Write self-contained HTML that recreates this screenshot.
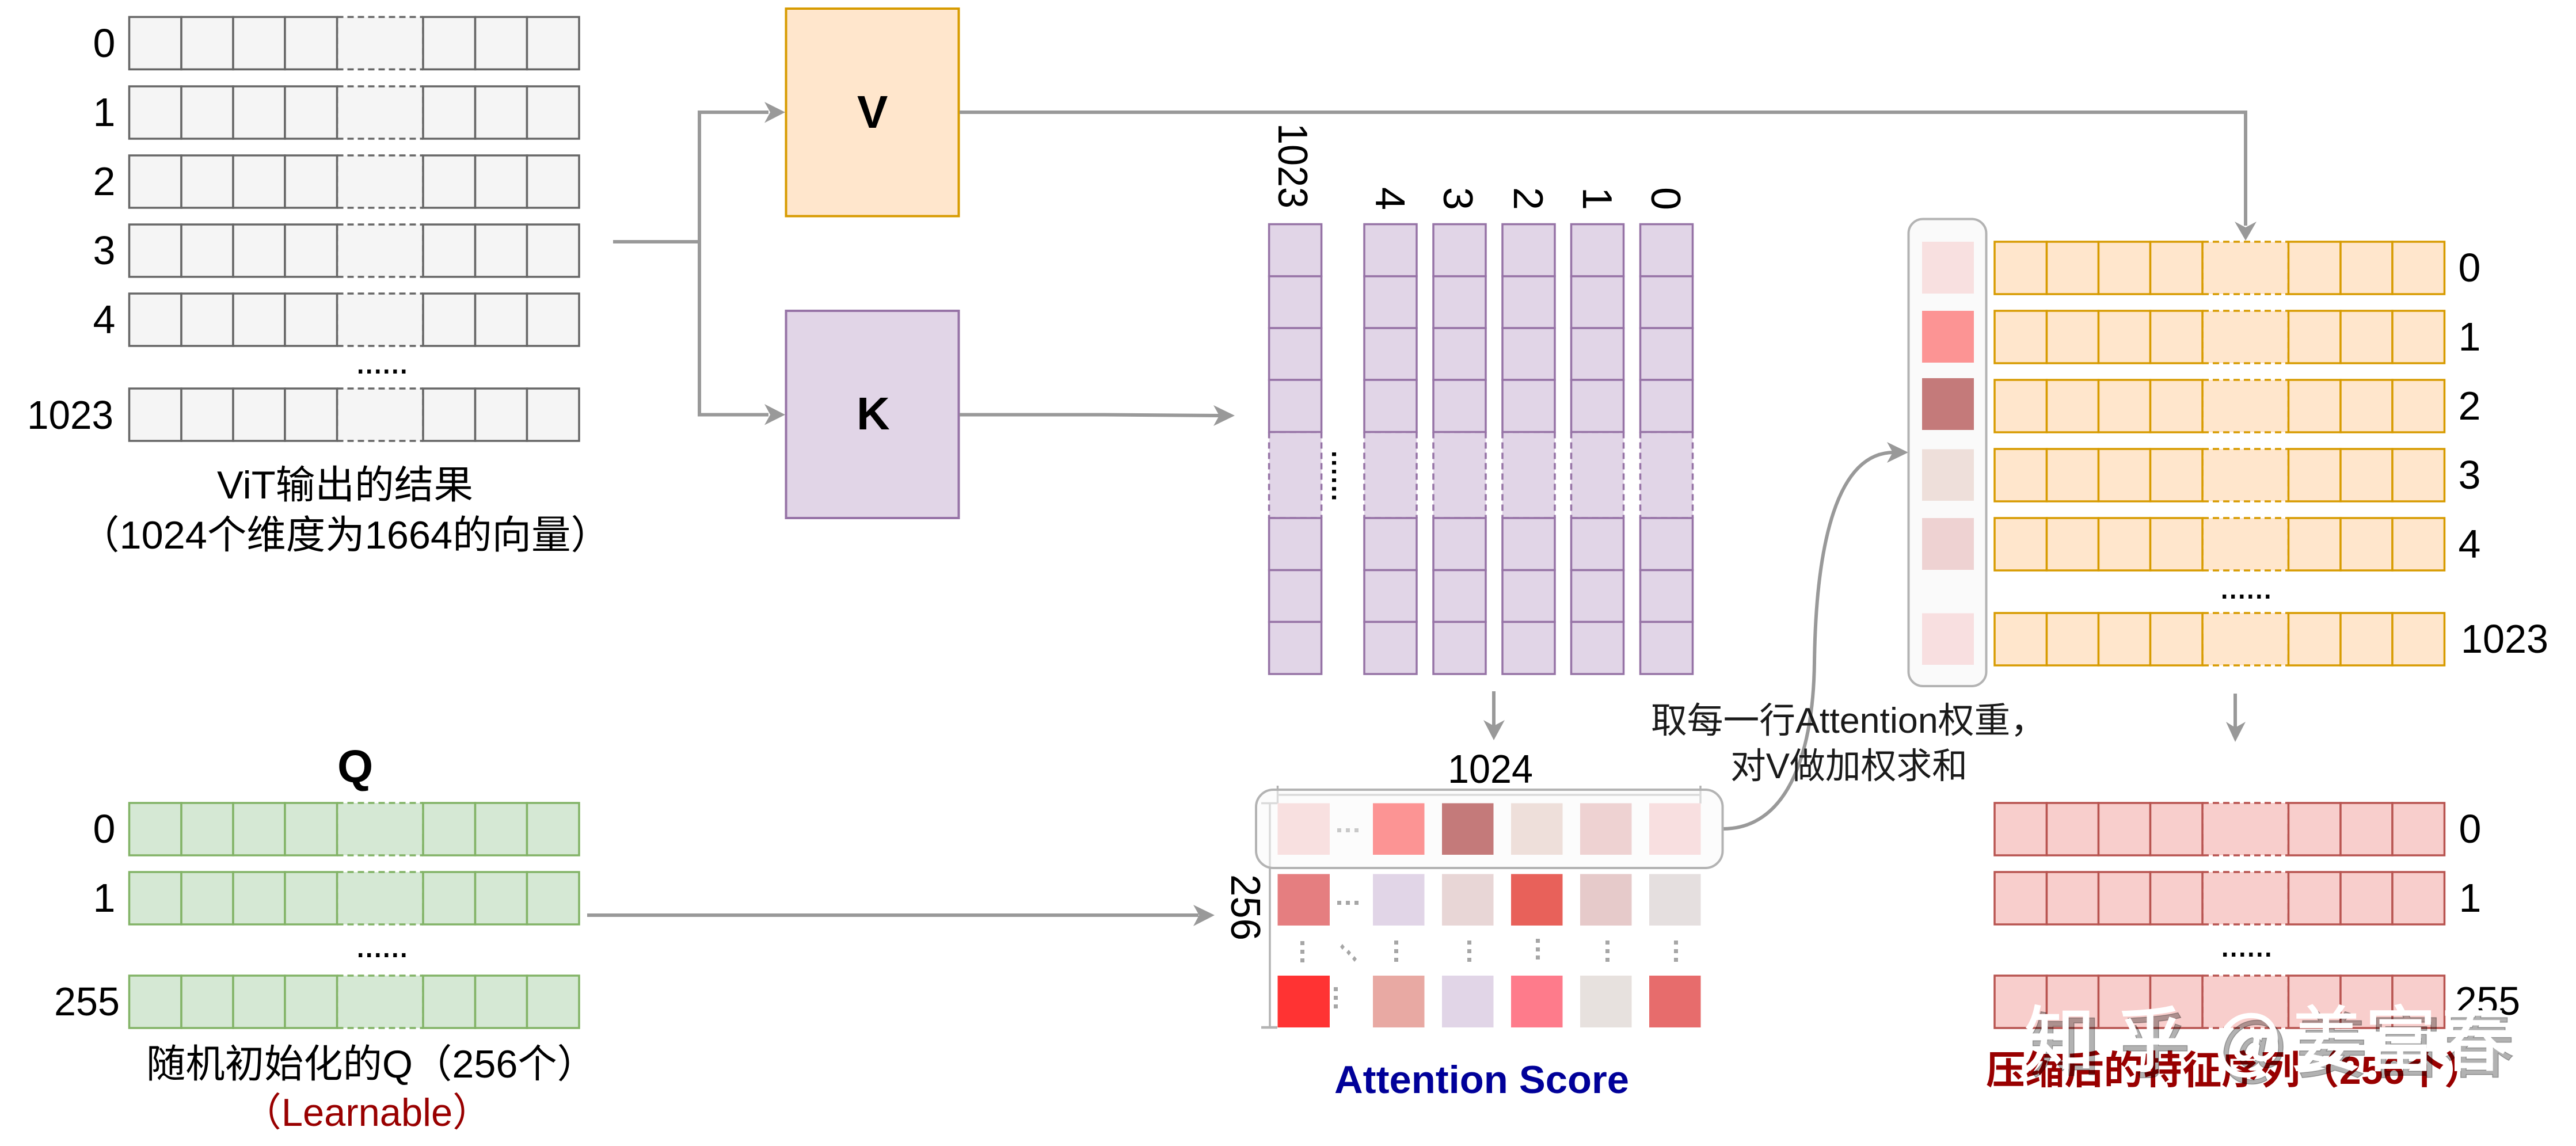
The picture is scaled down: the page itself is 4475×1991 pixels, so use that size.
<!DOCTYPE html>
<html lang="zh">
<head>
<meta charset="utf-8">
<title>Attention pooling diagram</title>
<style>
html,body{margin:0;padding:0;background:#fff}
svg{display:block}
text{font-family:"Liberation Sans","Noto Sans CJK SC",sans-serif;fill:#000}
.n{font-size:70px}
.c{font-size:70px;text-anchor:middle}
.t{font-size:68px}
.r{font-size:72px}
.dots{font-size:66px;letter-spacing:-3.3px}
.wm{font-family:"Noto Sans CJK SC","Liberation Sans",sans-serif;font-size:124px;stroke-width:1.5px}
</style>
</head>
<body>
<svg xmlns="http://www.w3.org/2000/svg" width="4475" height="1991" viewBox="0 0 4475 1991">
<defs>
<g id="r">
<rect x="361" y="0" width="149.5" height="91" stroke="none"/>
<path d="M361 0H510.5M361 91H510.5M361 0V91M510.5 0V91" fill="none" stroke-width="3.5" stroke-dasharray="11 7"/>
<g stroke-width="3.5">
<rect x="0" y="0" width="90.5" height="91"/>
<rect x="90.5" y="0" width="90" height="91"/>
<rect x="180.5" y="0" width="90" height="91"/>
<rect x="270.5" y="0" width="90.5" height="91"/>
<rect x="510.5" y="0" width="90.5" height="91"/>
<rect x="601" y="0" width="90" height="91"/>
<rect x="691" y="0" width="90.5" height="91"/>
</g>
</g>
</defs>

<rect width="4475" height="1991" fill="#fff"/>

<!-- gray rows -->
<g fill="#f5f5f5" stroke="#666666">
<use href="#r" x="224.5" y="29.5"/>
<use href="#r" x="224.5" y="150"/>
<use href="#r" x="224.5" y="270"/>
<use href="#r" x="224.5" y="390"/>
<use href="#r" x="224.5" y="510"/>
<use href="#r" x="224.5" y="675"/>
</g>
<text class="c" x="181" y="99">0</text>
<text class="c" x="181" y="219">1</text>
<text class="c" x="181" y="339">2</text>
<text class="c" x="181" y="459">3</text>
<text class="c" x="181" y="579">4</text>
<text class="n" x="47" y="745" textLength="150" lengthAdjust="spacingAndGlyphs">1023</text>
<text class="dots" x="617" y="649">......</text>
<text class="t" x="377" y="866" textLength="445" lengthAdjust="spacingAndGlyphs">ViT输出的结果</text>
<text class="t" x="139" y="953" textLength="921" lengthAdjust="spacingAndGlyphs">（1024个维度为1664的向量）</text>

<!-- green rows -->
<text x="586" y="1359" font-size="80" font-weight="bold">Q</text>
<g fill="#d5e8d4" stroke="#82b366">
<use href="#r" x="224.5" y="1395"/>
<use href="#r" x="224.5" y="1515"/>
<use href="#r" x="224.5" y="1695"/>
</g>
<text class="c" x="181" y="1464">0</text>
<text class="c" x="181" y="1584">1</text>
<text class="n" x="94" y="1764" textLength="114" lengthAdjust="spacingAndGlyphs">255</text>
<text class="dots" x="617" y="1663">......</text>
<text class="t" x="254" y="1872" textLength="782" lengthAdjust="spacingAndGlyphs">随机初始化的Q（256个）</text>
<text class="t" x="422" y="1956" textLength="431" lengthAdjust="spacingAndGlyphs" style="fill:#990000">（Learnable）</text>

<!-- V K boxes -->
<rect x="1365.5" y="15" width="300" height="360.5" fill="#ffe6cc" stroke="#d79b00" stroke-width="4"/>
<rect x="1365.5" y="540" width="300" height="360" fill="#e1d5e7" stroke="#9673a6" stroke-width="4"/>
<text x="1489" y="222" font-size="80" font-weight="bold">V</text>
<text x="1488" y="746" font-size="80" font-weight="bold">K</text>

<!-- connectors -->
<g fill="none" stroke="#999999" stroke-width="6">
<path d="M1065 420H1215"/>
<path d="M1335 195H1215V720.5H1335"/>
<path d="M1667 195H3901V392"/>
<path d="M1667 720.5H1917L2118 722"/>
<path d="M1020 1590H2082"/>
<path d="M2595 1201V1262"/>
<path d="M3883 1205V1265"/>
<path d="M2993 1440C3100 1440 3150 1320 3152 1150C3154 1000 3175 786 3290 786"/>
</g>
<g fill="#999999" stroke="none">
<polygon points="1364,195 1328,177 1338,195 1328,213.5"/>
<polygon points="1364,720.5 1328,702 1338,720.5 1328,738.5"/>
<polygon points="2145,722 2108,704 2118,722 2108,740"/>
<polygon points="2110,1590 2073,1572 2083,1590 2073,1609"/>
<polygon points="3901,418 3882,385 3901,395 3920,385"/>
<polygon points="2595,1286 2577,1251 2595,1261 2614,1251"/>
<polygon points="3883,1289 3867,1254 3883,1264 3901,1254"/>
<polygon points="3315,786 3278,768 3288,786 3278,804"/>
</g>

<!-- purple columns -->
<g fill="#e1d5e7" stroke="#9673a6">
<use href="#r" transform="matrix(0 1 1 0 2204.6 389.5)"/>
<use href="#r" transform="matrix(0 1 1 0 2370 389.5)"/>
<use href="#r" transform="matrix(0 1 1 0 2490 389.5)"/>
<use href="#r" transform="matrix(0 1 1 0 2610 389.5)"/>
<use href="#r" transform="matrix(0 1 1 0 2729.5 389.5)"/>
<use href="#r" transform="matrix(0 1 1 0 2849.5 389.5)"/>
</g>
<text class="r" transform="translate(2221 214) rotate(90)" textLength="148" lengthAdjust="spacingAndGlyphs">1023</text>
<text class="r" transform="translate(2390 325) rotate(90)">4</text>
<text class="r" transform="translate(2508 325) rotate(90)">3</text>
<text class="r" transform="translate(2630 325) rotate(90)">2</text>
<text class="r" transform="translate(2750 325) rotate(90)">1</text>
<text class="r" transform="translate(2869 325) rotate(90)">0</text>
<text class="dots" transform="translate(2314 780) rotate(90)">......</text>

<!-- attention matrix -->
<text class="n" x="2515" y="1360" textLength="148" lengthAdjust="spacingAndGlyphs">1024</text>
<text class="r" transform="translate(2139 1519) rotate(90)" textLength="115" lengthAdjust="spacingAndGlyphs">256</text>
<g fill="none" stroke="#b3b3b3" stroke-width="3.5">
<path d="M2219.5 1365V1396M2954 1365V1396M2219.5 1381H2954"/>
<path d="M2191 1395.5H2219M2206 1395.5V1785"/>
<path d="M2191 1785H2219" stroke-width="4.5"/>
</g>
<rect x="2182" y="1372" width="810.5" height="136" rx="30" ry="30" fill="#fafafa" fill-opacity="0.55" stroke="#b3b3b3" stroke-width="4"/>

<rect x="2219.5" y="1395.5" width="90.5" height="89.5" fill="#f8e0e0"/>
<rect x="2385" y="1395.5" width="89.5" height="89.5" fill="#fc9494"/>
<rect x="2505" y="1395.5" width="89.5" height="89.5" fill="#c47a7a"/>
<rect x="2625" y="1395.5" width="89.5" height="89.5" fill="#eedfda"/>
<rect x="2745" y="1395.5" width="89.5" height="89.5" fill="#eed2d2"/>
<rect x="2865" y="1395.5" width="89.5" height="89.5" fill="#f8dfe0"/>

<rect x="2219.5" y="1518.5" width="90.5" height="89.5" fill="#e57e80"/>
<rect x="2385" y="1518.5" width="89.5" height="89.5" fill="#e1d5e7"/>
<rect x="2505" y="1518.5" width="89.5" height="89.5" fill="#e8d6d6"/>
<rect x="2625" y="1518.5" width="89.5" height="89.5" fill="#e8615a"/>
<rect x="2745" y="1518.5" width="89.5" height="89.5" fill="#e6caca"/>
<rect x="2865" y="1518.5" width="89.5" height="89.5" fill="#e5dfdf"/>

<rect x="2219.5" y="1695" width="90.5" height="90" fill="#ff3333"/>
<rect x="2385" y="1695" width="89.5" height="90" fill="#e8a9a3"/>
<rect x="2505" y="1695" width="89.5" height="90" fill="#e1d5e7"/>
<rect x="2625" y="1695" width="89.5" height="90" fill="#fe7b8b"/>
<rect x="2745" y="1695" width="89.5" height="90" fill="#e7e1de"/>
<rect x="2865" y="1695" width="89.5" height="90" fill="#e76c6c"/>

<g fill="#c9c9c9">
<rect x="2323" y="1439" width="7" height="7"/><rect x="2338" y="1439" width="7" height="7"/><rect x="2353" y="1439" width="7" height="7"/>
</g>
<g fill="#a6a6a6">
<rect x="2323" y="1565" width="7" height="7"/><rect x="2338" y="1565" width="7" height="7"/><rect x="2353" y="1565" width="7" height="7"/>
<rect x="2259" y="1635" width="7" height="7"/><rect x="2259" y="1650" width="7" height="7"/><rect x="2259" y="1665" width="7" height="7"/>
<rect x="2422" y="1634" width="7" height="7"/><rect x="2422" y="1649" width="7" height="7"/><rect x="2422" y="1664" width="7" height="7"/>
<rect x="2549" y="1634" width="7" height="7"/><rect x="2549" y="1649" width="7" height="7"/><rect x="2549" y="1664" width="7" height="7"/>
<rect x="2668" y="1631" width="7" height="7"/><rect x="2668" y="1646" width="7" height="7"/><rect x="2668" y="1660" width="7" height="7"/>
<rect x="2789" y="1634" width="7" height="7"/><rect x="2789" y="1649" width="7" height="7"/><rect x="2789" y="1664" width="7" height="7"/>
<rect x="2908" y="1634" width="7" height="7"/><rect x="2908" y="1649" width="7" height="7"/><rect x="2908" y="1664" width="7" height="7"/>
<rect x="2317" y="1715" width="7" height="7"/><rect x="2317" y="1730" width="7" height="7"/><rect x="2317" y="1745" width="7" height="7"/>
<polygon points="2332,1640 2336,1645 2332,1650 2328,1645"/>
<polygon points="2343,1650 2347,1655 2343,1660 2339,1655"/>
<polygon points="2353,1661 2357,1666 2353,1671 2349,1666"/>
</g>
<text x="2318" y="1899" font-size="68" font-weight="bold" textLength="512" lengthAdjust="spacingAndGlyphs" style="fill:#000099">Attention Score</text>

<!-- weights column -->
<rect x="3315.5" y="380.5" width="135" height="811.5" rx="25" ry="25" fill="#fafafa" stroke="#b3b3b3" stroke-width="4"/>
<rect x="3339" y="420" width="90" height="90" fill="#f8e0e0"/>
<rect x="3339" y="540" width="90" height="90" fill="#fc9494"/>
<rect x="3339" y="657" width="90" height="90" fill="#c47a7a"/>
<rect x="3339" y="780.5" width="90" height="89.5" fill="#eedfda"/>
<rect x="3339" y="900" width="90" height="90" fill="#eed2d2"/>
<rect x="3339" y="1065.5" width="90" height="89.5" fill="#f8dfe0"/>

<!-- orange rows -->
<g fill="#ffe6cc" stroke="#d79b00">
<use href="#r" x="3465" y="420"/>
<use href="#r" x="3465" y="540"/>
<use href="#r" x="3465" y="660"/>
<use href="#r" x="3465" y="780"/>
<use href="#r" x="3465" y="900"/>
<use href="#r" x="3465" y="1065"/>
</g>
<text class="c" x="4290" y="489">0</text>
<text class="c" x="4290" y="609">1</text>
<text class="c" x="4290" y="729">2</text>
<text class="c" x="4290" y="849">3</text>
<text class="c" x="4290" y="969">4</text>
<text class="n" x="4275" y="1134" textLength="152" lengthAdjust="spacingAndGlyphs">1023</text>
<text class="dots" x="3855" y="1040">......</text>

<text x="2868" y="1273" font-size="62" textLength="687" lengthAdjust="spacingAndGlyphs" style="fill:#1a1a1a">取每一行Attention权重，</text>
<text x="3006" y="1352" font-size="62" textLength="412" lengthAdjust="spacingAndGlyphs" style="fill:#1a1a1a">对V做加权求和</text>

<!-- red rows -->
<g fill="#f8cecc" stroke="#b85450">
<use href="#r" x="3465" y="1395"/>
<use href="#r" x="3465" y="1515"/>
<use href="#r" x="3465" y="1695"/>
</g>
<text class="c" x="4291" y="1464">0</text>
<text class="c" x="4291" y="1584">1</text>
<text class="n" x="4265" y="1763" textLength="113" lengthAdjust="spacingAndGlyphs">255</text>
<text class="dots" x="3856" y="1662">......</text>
<text x="3450" y="1883" font-size="68" font-weight="bold" textLength="864" lengthAdjust="spacingAndGlyphs" style="fill:#990000">压缩后的特征序列（256个）</text>

<!-- watermark -->
<text class="wm" x="3526 3682 3856 3989 4118 4245" y="1862" style="fill:#000;fill-opacity:.3;stroke:#000;stroke-opacity:.3">知乎@姜富春</text>
<text class="wm" x="3516 3672 3846 3979 4108 4235" y="1850" style="fill:#fff;stroke:#fff">知乎@姜富春</text>
</svg>
</body>
</html>
